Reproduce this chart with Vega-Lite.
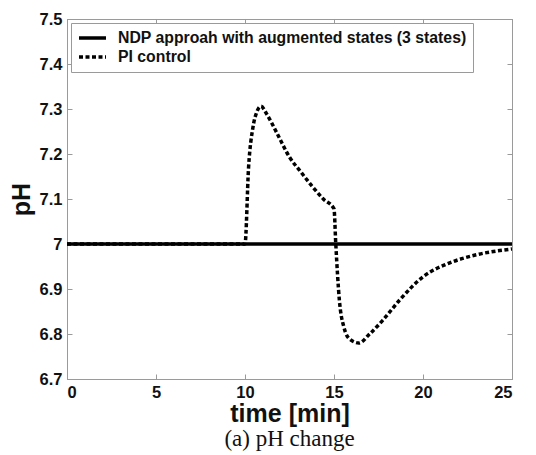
{
  "$schema": "https://vega.github.io/schema/vega-lite/v6.json",
  "width": 445,
  "height": 360,
  "autosize": "none",
  "padding": {"left": 67, "top": 19, "right": 24, "bottom": 76},
  "background": "white",
  "config": {
    "view": {"stroke": "#9a9a9a", "strokeWidth": 1},
    "font": "Liberation Sans",
    "axis": {
      "grid": false,
      "domainColor": "#9a9a9a",
      "tickColor": "#9a9a9a",
      "tickSize": -5,
      "labelFont": "Liberation Sans",
      "labelFontWeight": "bold",
      "labelFontSize": 16.5,
      "labelColor": "#111",
      "titleFont": "Liberation Sans",
      "titleFontWeight": "bold",
      "titleFontSize": 25,
      "titleColor": "#111"
    }
  },
  "title": {
    "text": "(a) pH change",
    "orient": "bottom",
    "font": "Liberation Serif",
    "fontSize": 23,
    "fontWeight": "normal",
    "color": "#111",
    "offset": 1
  },
  "resolve": {"axis": {"x": "independent", "y": "independent"}},
  "data": {
    "values": [
      {"series": "PI control", "t": 0, "ph": 7.0},
      {"series": "PI control", "t": 10.0, "ph": 7.0},
      {"series": "PI control", "t": 10.2, "ph": 7.17},
      {"series": "PI control", "t": 10.45, "ph": 7.26},
      {"series": "PI control", "t": 10.65, "ph": 7.292},
      {"series": "PI control", "t": 10.9, "ph": 7.306},
      {"series": "PI control", "t": 11.2, "ph": 7.29},
      {"series": "PI control", "t": 11.8, "ph": 7.246},
      {"series": "PI control", "t": 12.5, "ph": 7.193},
      {"series": "PI control", "t": 13.1, "ph": 7.162},
      {"series": "PI control", "t": 13.8, "ph": 7.127},
      {"series": "PI control", "t": 14.4, "ph": 7.1},
      {"series": "PI control", "t": 15.0, "ph": 7.078},
      {"series": "PI control", "t": 15.1, "ph": 7.0},
      {"series": "PI control", "t": 15.3, "ph": 6.876},
      {"series": "PI control", "t": 15.55, "ph": 6.816},
      {"series": "PI control", "t": 15.9, "ph": 6.788},
      {"series": "PI control", "t": 16.4, "ph": 6.78},
      {"series": "PI control", "t": 17.0, "ph": 6.8},
      {"series": "PI control", "t": 17.75, "ph": 6.831},
      {"series": "PI control", "t": 18.7, "ph": 6.876},
      {"series": "PI control", "t": 20.0, "ph": 6.927},
      {"series": "PI control", "t": 21.5, "ph": 6.958},
      {"series": "PI control", "t": 23.0, "ph": 6.976},
      {"series": "PI control", "t": 25.0, "ph": 6.989},
      {"series": "NDP approah with augmented states (3 states)", "t": 0, "ph": 7.0},
      {"series": "NDP approah with augmented states (3 states)", "t": 25, "ph": 7.0}
    ]
  },
  "layer": [
    {
      "mark": {"type": "line", "color": "black", "strokeWidth": 3.5, "clip": true, "interpolate": "monotone"},
      "encoding": {
        "x": {"field": "t", "type": "quantitative", "scale": {"domain": [0, 25], "nice": false}, "axis": {"values": [0, 5, 10, 15, 20, 25], "title": "time [min]", "titlePadding": 1, "labelPadding": 10}},
        "y": {"field": "ph", "type": "quantitative", "scale": {"domain": [6.7, 7.5], "nice": false, "zero": false}, "axis": {"values": [6.7, 6.8, 6.9, 7.0, 7.1, 7.2, 7.3, 7.4, 7.5], "labelExpr": "datum.value == 7 ? '7' : format(datum.value, '.1f')", "title": "pH", "titlePadding": 5, "labelPadding": 10}},
        "strokeDash": {
          "field": "series", "type": "nominal",
          "scale": {"domain": ["NDP approah with augmented states (3 states)", "PI control"], "range": [[1, 0], [4, 2.5]]},
          "legend": {
            "title": null,
            "orient": "top-left",
            "offset": 4,
            "strokeColor": "#9a9a9a",
            "fillColor": "white",
            "padding": 6,
            "labelFont": "Liberation Sans",
            "labelFontWeight": "bold",
            "labelFontSize": 15.8,
            "labelColor": "#111",
            "labelOffset": 10,
            "symbolType": "stroke",
            "symbolSize": 729,
            "symbolStrokeWidth": 3.5,
            "symbolStrokeColor": "black",
            "clipHeight": 18,
            "rowPadding": 1,
            "labelLimit": 500
          }
        },
        "order": {"field": "series", "sort": "descending"}
      }
    },
    {
      "mark": {"type": "point", "opacity": 0},
      "encoding": {
        "x": {"field": "t", "type": "quantitative", "axis": {"orient": "top", "values": [0, 5, 10, 15, 20, 25], "labels": false, "title": null}},
        "y": {"field": "ph", "type": "quantitative", "axis": {"orient": "right", "values": [6.7, 6.8, 6.9, 7.0, 7.1, 7.2, 7.3, 7.4, 7.5], "labels": false, "title": null}}
      }
    }
  ]
}
